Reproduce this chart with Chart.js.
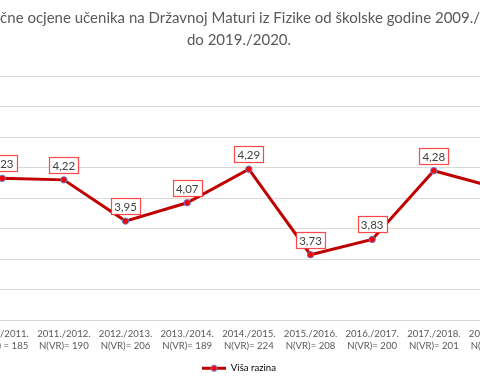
<!DOCTYPE html>
<html>
<head>
<meta charset="utf-8">
<script src="https://cdn.jsdelivr.net/npm/chart.js@4/dist/chart.umd.min.js"></script>
<style>
  html, body { margin: 0; padding: 0; background: #ffffff; overflow: hidden; width: 480px; height: 385px; }
  #wrap { position: absolute; left: -120px; top: 0; width: 718px; height: 385px; }
</style>
</head>
<body>
<div id="wrap"><canvas id="c"></canvas></div>
<script>
// ---- data ----
const titleLines = [
  'Prosječne ocjene učenika na Državnoj Maturi iz Fizike od školske godine 2009./2010.',
  'do 2019./2020.'
];
const schoolYears = ['2009./2010.', '2010./2011.', '2011./2012.', '2012./2013.', '2013./2014.',
  '2014./2015.', '2015./2016.', '2016./2017.', '2017./2018.', '2018./2019.', '2019./2020.'];
const nCounts = ['N(VR)= 180', 'N(VR) = 185', 'N(VR)= 190', 'N(VR)= 206', 'N(VR)= 189',
  'N(VR)= 224', 'N(VR)= 208', 'N(VR)= 200', 'N(VR)= 201', 'N(VR)= 195', 'N(VR)= 170'];
const visaRazina = [4.20, 4.23, 4.22, 3.95, 4.07, 4.29, 3.73, 3.83, 4.28, 4.17, 4.10];
const seriesName = 'Viša razina';
const yMin = 3.3, yMax = 4.9, yStep = 0.2;

const labels = schoolYears.map((y, i) => [y, nCounts[i]]);

const LINE = '#C00000';
const DOT = '#FF0000';
const DOT_BORDER = '#5B7FD0';
const GRAY = '#595959';
const FONT = 'Lato, Carlito, "Open Sans", sans-serif';

// legend marker image: line with a dot
function legendMarker() {
  const cv = document.createElement('canvas');
  cv.width = 24; cv.height = 9;
  const g = cv.getContext('2d');
  g.strokeStyle = LINE; g.lineWidth = 3;
  g.beginPath(); g.moveTo(0, 4.5); g.lineTo(24, 4.5); g.stroke();
  g.fillStyle = DOT; g.strokeStyle = DOT_BORDER; g.lineWidth = 1;
  g.beginPath(); g.arc(12, 4.5, 3, 0, Math.PI * 2); g.fill(); g.stroke();
  return cv;
}
const markerImg = legendMarker();

const valueLabels = {
  id: 'valueLabels',
  afterDatasetsDraw(chart) {
    const ctx = chart.ctx;
    const meta = chart.getDatasetMeta(0);
    ctx.save();
    ctx.font = '11.5px ' + FONT;
    ctx.textAlign = 'center';
    ctx.textBaseline = 'middle';
    meta.data.forEach((pt, i) => {
      const txt = visaRazina[i].toFixed(2).replace('.', ',');
      const w = Math.round(ctx.measureText(txt).width + 6);
      const h = 16;
      const left = Math.round(pt.x - w / 2) + 0.5;
      const top = Math.round(pt.y - 15 - h / 2) + 0.5;
      ctx.fillStyle = '#ffffff';
      ctx.fillRect(left, top, w, h);
      ctx.strokeStyle = 'rgba(255,40,40,0.85)';
      ctx.lineWidth = 1.2;
      ctx.strokeRect(left, top, w, h);
      ctx.fillStyle = '#404040';
      ctx.fillText(txt, pt.x, top + h / 2 + 0.5);
    });
    ctx.restore();
  }
};

new Chart(document.getElementById('c'), {
  type: 'line',
  data: {
    labels: labels,
    datasets: [{
      label: seriesName,
      data: visaRazina,
      borderColor: LINE,
      borderWidth: 3,
      backgroundColor: DOT,
      pointBackgroundColor: DOT,
      pointBorderColor: DOT_BORDER,
      pointBorderWidth: 1,
      pointRadius: 3.2,
      tension: 0,
      fill: false
    }]
  },
  options: {
    responsive: true,
    maintainAspectRatio: false,
    animation: false,
    layout: { padding: { left: 10, right: 10, top: 0, bottom: 2 } },
    scales: {
      x: {
        offset: true,
        grid: { display: false, drawTicks: false },
        border: { display: false },
        ticks: {
          color: GRAY,
          font: { family: FONT, size: 9.6, lineHeight: '12px' },
          padding: 8,
          maxRotation: 0,
          autoSkip: false
        },
        afterFit: (scale) => { scale.height = 33; }
      },
      y: {
        min: yMin,
        max: yMax,
        ticks: { display: false, stepSize: yStep },
        grid: { color: '#D9D9D9', lineWidth: 1, drawTicks: false },
        border: { display: false },
        afterFit: (scale) => { scale.width = 19.7; }
      }
    },
    plugins: {
      title: {
        display: true,
        text: titleLines,
        color: GRAY,
        font: { family: FONT, size: 15, weight: 'normal', lineHeight: '22px' },
        padding: { top: 7, bottom: 25 }
      },
      legend: {
        position: 'bottom',
        labels: {
          color: GRAY,
          font: { family: FONT, size: 9.6 },
          usePointStyle: true,
          pointStyleWidth: 24,
          padding: 10,
          generateLabels: (chart) => [{
            text: seriesName,
            pointStyle: markerImg,
            fillStyle: DOT,
            strokeStyle: LINE,
            lineWidth: 0,
            hidden: false,
            datasetIndex: 0
          }]
        }
      },
      tooltip: { enabled: false }
    }
  },
  plugins: [valueLabels]
});
</script>
</body>
</html>
